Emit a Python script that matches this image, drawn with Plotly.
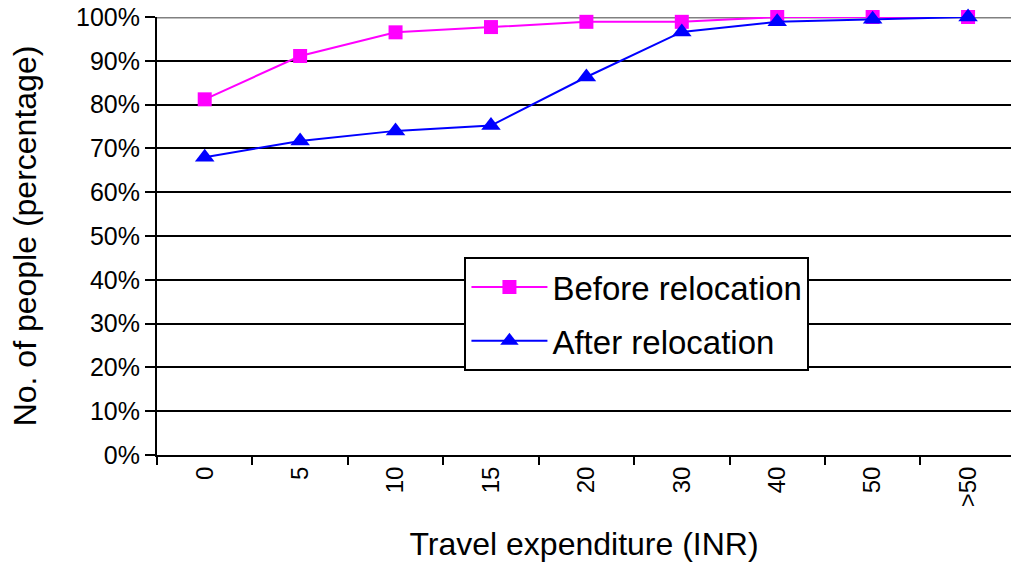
import plotly.graph_objects as go

categories = ["0", "5", "10", "15", "20", "30", "40", "50", ">50"]
before_relocation = [0.812, 0.911, 0.965, 0.977, 0.989, 0.989, 1.0, 1.0, 1.0]
after_relocation = [0.680, 0.717, 0.740, 0.752, 0.863, 0.966, 0.989, 0.995, 1.0]
y_ticks = [0, 0.1, 0.2, 0.3, 0.4, 0.5, 0.6, 0.7, 0.8, 0.9, 1.0]

FONT = "Liberation Sans, Arial, sans-serif"

fig = go.Figure()
fig.add_trace(go.Scatter(
    x=categories, y=before_relocation, name="Before relocation",
    mode="lines+markers",
    line=dict(color="#FF00FF", width=2),
    marker=dict(symbol="square", size=14, color="#FF00FF"),
    legendgroup="a", cliponaxis=False,
))
fig.add_trace(go.Scatter(
    x=categories, y=after_relocation, name="After relocation",
    mode="lines+markers",
    line=dict(color="#0000FF", width=2),
    marker=dict(symbol="triangle-up", size=17, color="#0000FF"),
    legendgroup="b", cliponaxis=False,
))

fig.add_shape(type="line", xref="paper", yref="y", x0=0, x1=1, y0=1.0, y1=1.0,
              line=dict(color="#808080", width=3), layer="between")

fig.update_layout(
    width=1011, height=562,
    margin=dict(l=157, r=0, t=17, b=107),
    paper_bgcolor="white", plot_bgcolor="white",
    font=dict(family=FONT, color="black"),
    showlegend=True,
    legend=dict(
        x=0.36, y=0.452, xanchor="left", yanchor="top",
        bordercolor="black", borderwidth=2, bgcolor="white",
        font=dict(size=33, family=FONT, color="black"),
        tracegroupgap=8, itemwidth=76,
    ),
    xaxis=dict(
        type="category", categoryorder="array", categoryarray=categories,
        range=[-0.5, 8.45], automargin=False,
        tickson="boundaries", ticks="outside", ticklen=8, tickwidth=2, tickcolor="black",
        showline=True, linecolor="black", linewidth=2, showgrid=False,
        tickangle=-90, tickfont=dict(size=24, family=FONT),
        title=dict(text="Travel expenditure (INR)", font=dict(size=32, family=FONT), standoff=27),
    ),
    yaxis=dict(
        range=[0, 1.0], tickvals=y_ticks, tickformat=".0%", automargin=False,
        ticklabeloverflow="allow",
        showgrid=True, gridcolor="black", gridwidth=2,
        showline=True, linecolor="black", linewidth=2, zeroline=False,
        ticks="outside", ticklen=10, tickwidth=2, tickcolor="black",
        tickfont=dict(size=25, family=FONT),
        title=dict(text="No. of people (percentage)", font=dict(size=32, family=FONT), standoff=30),
    ),
)

fig.write_html(
    "out.html",
    config={"displayModeBar": False},
    post_script="document.body.style.margin='0';document.body.style.overflow='hidden';",
)
